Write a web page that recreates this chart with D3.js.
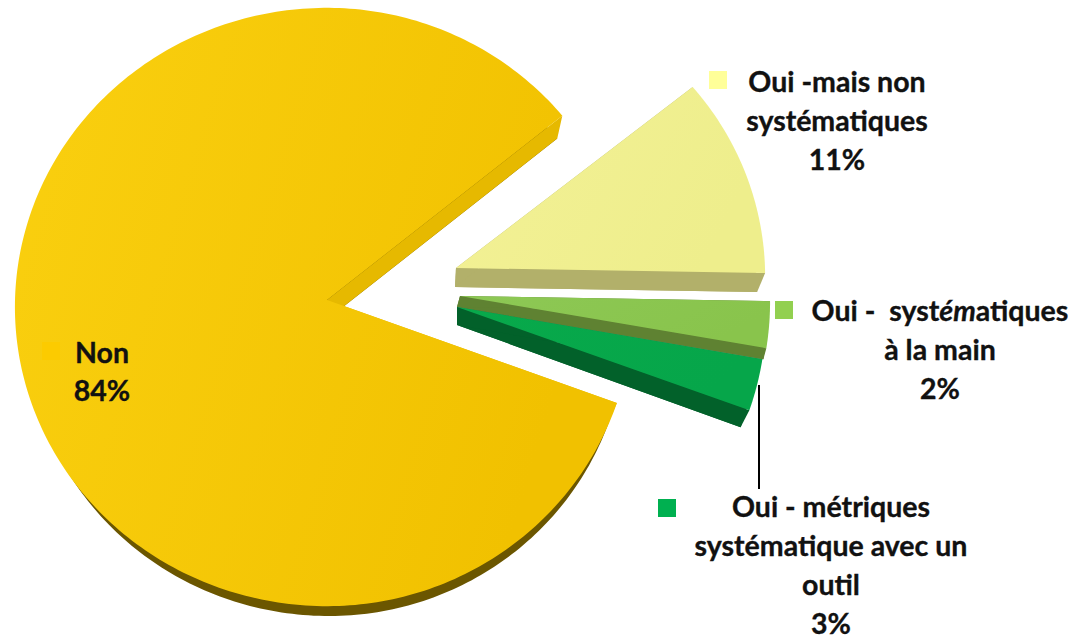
<!DOCTYPE html>
<html>
<head>
<meta charset="utf-8">
<style>
  html, body { margin: 0; padding: 0; background: #fff; }
  svg { display: block; }
  text { font-family: Lato, "Open Sans", sans-serif; font-weight: 700; fill: #111; stroke: #111; stroke-width: 0.35; white-space: pre; }
</style>
</head>
<body>
<svg id="chart"></svg>
<script src="https://cdn.jsdelivr.net/npm/d3@7"></script>
<script>
const categories = ["Non", "Oui -mais non systématiques", "Oui - systématiques à la main", "Oui - métriques systématique avec un outil"];
// printed on the labels
const percentLabels = ["84%", "11%", "2%", "3%"];
// share of the circle as drawn
const shares = [83.69, 11.03, 2.5, 2.78];

const width = 1076;
const height = 637;
const deg = Math.PI / 180;

const svg = d3.select("#chart").attr("width", width).attr("height", height);

// one entry per slice: apex of the top face, radii, and how the bottom face is shifted
const sliceLayout = [
  { apex: [327, 300], rx: 312, rxRight: 306, ry: 299, k: 0.0234, shift: [2, 18], grow: [-0.03, -0.0266] },
  { apex: [456, 268], rx: 309, ry: 295, k: 0.03, shift: [-1, 19], grow: [-0.0227, -0.004] },
  { apex: [460, 296], rx: 310, ry: 300, k: 0.02, shift: [-3, 11], grow: [0, 0] },
  { apex: [457, 307], rx: 309, ry: 300, k: 0.02, shift: [0, 18], grow: [-0.03, -0.01] }
];
const sliceColors = [
  { from: "#fad010", to: "#f1c100", rim: "#6b5600", wall: "#e6b900" },
  { from: "#f3f196", to: "#eeee8c", rim: "#b2b06a", wall: "#b2b06a" },
  { from: "#8dc855", to: "#89c44c", rim: "#5f8232", wall: "#5f8232" },
  { from: "#08a94b", to: "#06a64a", rim: "#02612a", wall: "#02612a" }
];

const pie = d3.pie().sort(null).startAngle(110 * deg).endAngle(470 * deg);
const arcs = pie(shares);

const defs = svg.append("defs");
sliceColors.forEach((c, i) => {
  const g = defs.append("linearGradient").attr("id", "top" + i)
    .attr("x1", "0%").attr("y1", "0%").attr("x2", "100%").attr("y2", "30%");
  g.append("stop").attr("offset", "0%").attr("stop-color", c.from);
  g.append("stop").attr("offset", "100%").attr("stop-color", c.to);
});

const line = d3.line();

// angle clockwise from 12 o'clock -> pixel on the top face, with a bit of perspective
function rimPoint(l, a) {
  const s = -Math.cos(a);
  const f = 1 - l.k * s;
  const sx = Math.sin(a);
  const rx = sx > 0 && l.rxRight ? l.rxRight : l.rx;
  return [l.apex[0] + rx * sx / f, l.apex[1] + l.ry * s / f];
}

function lower(l, p) {
  return [
    p[0] + l.shift[0] + l.grow[0] * (p[0] - l.apex[0]),
    p[1] + l.shift[1] + l.grow[1] * (p[1] - l.apex[1])
  ];
}

const slices = svg.append("g")
  .selectAll("g")
  .data(arcs)
  .enter().append("g");

slices.each(function(d, i) {
  const l = sliceLayout[i];
  const c = sliceColors[i];
  const g = d3.select(this);
  const steps = Math.max(6, Math.ceil((d.endAngle - d.startAngle) / deg));
  const rim = d3.range(steps + 1).map(j => rimPoint(l, d.startAngle + (d.endAngle - d.startAngle) * j / steps));
  const top = [l.apex, ...rim];

  g.append("path").attr("d", line(top.map(p => lower(l, p))) + "Z").attr("fill", c.rim);
  g.append("path")
    .attr("d", line([l.apex, rim[rim.length - 1], lower(l, rim[rim.length - 1]), lower(l, l.apex)]) + "Z")
    .attr("fill", c.wall);
  g.append("path")
    .attr("d", line([l.apex, rim[0], lower(l, rim[0]), lower(l, l.apex)]) + "Z")
    .attr("fill", c.wall);
  g.append("path").attr("d", line(top) + "Z").attr("fill", `url(#top${i})`);
});

// leader line of the last slice
svg.append("line")
  .attr("x1", 759).attr("y1", 385).attr("x2", 759).attr("y2", 489)
  .attr("stroke", "#000").attr("stroke-width", 2);

const legendKeys = ["#fccb00", "#ffff99", "#92d050", "#00b050"];
const keyLayout = [[42, 342], [709, 71], [775, 301], [658, 499]];
svg.append("g").selectAll("rect")
  .data(legendKeys)
  .enter().append("rect")
  .attr("x", (d, i) => keyLayout[i][0])
  .attr("y", (d, i) => keyLayout[i][1])
  .attr("width", 18).attr("height", 18)
  .attr("fill", d => d);

// label lines, the last line of each is the percentage
const labelLines = [
  [[["Non"]]],
  [[["Oui -mais non"]], [["systématiques"]]],
  [[["Oui -  syst"], ["ém", "italic"], ["atiques"]], [["à la main"]]],
  [[["Oui - métriques"]], [["systématique avec un"]], [["outil"]]]
];
const labelLayout = [
  { x: 102, y: 363, step: 38 },
  { x: 837, y: 92, step: 39 },
  { x: 940, y: 321, step: 39 },
  { x: 831, y: 517, step: 39 }
];

labelLines.forEach((lines, i) => {
  const pos = labelLayout[i];
  const all = [...lines, [[percentLabels[i]]]];
  const text = svg.append("text")
    .attr("text-anchor", "middle")
    .attr("font-size", 28.5);
  all.forEach((runs, n) => {
    runs.forEach((run, m) => {
      const t = text.append("tspan").text(run[0]).attr("font-style", run[1] || "normal");
      if (m === 0) t.attr("x", pos.x).attr("y", pos.y + n * pos.step);
    });
  });
});
</script>
</body>
</html>
